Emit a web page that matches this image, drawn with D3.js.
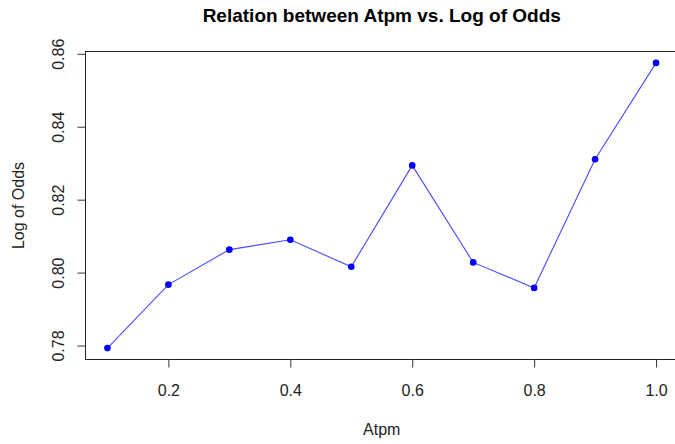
<!DOCTYPE html>
<html>
<head>
<meta charset="utf-8">
<script src="https://cdn.jsdelivr.net/npm/d3@7"></script>
<style>
  html, body { margin: 0; padding: 0; background: #fff; }
  svg { display: block; font-family: "Liberation Sans", Arial, sans-serif; }
</style>
</head>
<body>
<svg id="chart" width="675" height="444"></svg>
<script>
const atpm = [0.1, 0.2, 0.3, 0.4, 0.5, 0.6, 0.7, 0.8, 0.9, 1.0];
const logOdds = [0.7793, 0.7967, 0.8063, 0.8090, 0.8016, 0.8294, 0.8028, 0.7958, 0.8311, 0.8575];
const xTicks = [0.2, 0.4, 0.6, 0.8, 1.0];
const xTickLabels = ["0.2", "0.4", "0.6", "0.8", "1.0"];
const yTicks = [0.78, 0.80, 0.82, 0.84, 0.86];
const yTickLabels = ["0.78", "0.80", "0.82", "0.84", "0.86"];
const titleText = "Relation between Atpm vs. Log of Odds";
const xLabel = "Atpm";
const yLabel = "Log of Odds";

const svg = d3.select("#chart");
const pL = 85.5, pR = 678, pT = 51.5, pB = 359.5;

function rExtend(ext) {
  const d = (ext[1] - ext[0]) * 0.04;
  return [ext[0] - d, ext[1] + d];
}
const x = d3.scaleLinear().domain(rExtend(d3.extent(atpm))).range([pL, pR]);
const y = d3.scaleLinear().domain(rExtend(d3.extent(logOdds))).range([pB, pT]);

// box
svg.append("rect")
  .attr("x", pL).attr("y", pT)
  .attr("width", pR - pL).attr("height", pB - pT)
  .attr("fill", "none").attr("stroke", "#222").attr("stroke-width", 1);

// x axis
const xAxis = svg.append("g")
  .attr("transform", `translate(0,${pB})`)
  .call(d3.axisBottom(x).tickValues(xTicks).tickSize(8).tickFormat((d, i) => xTickLabels[i]));
xAxis.select(".domain").remove();
xAxis.selectAll(".tick line").attr("stroke", "#333");
xAxis.selectAll(".tick text")
  .attr("font-size", 16).attr("fill", "#222")
  .attr("font-family", "Liberation Sans, Arial, sans-serif")
  .attr("y", 36.5).attr("dy", null);

// y axis
const yAxis = svg.append("g")
  .attr("transform", `translate(${pL},0)`)
  .call(d3.axisLeft(y).tickValues(yTicks).tickSize(8).tickFormat((d, i) => yTickLabels[i]));
yAxis.select(".domain").remove();
yAxis.selectAll(".tick line").attr("stroke", "#333");
yAxis.selectAll(".tick text")
  .attr("font-size", 16).attr("fill", "#222")
  .attr("font-family", "Liberation Sans, Arial, sans-serif")
  .attr("x", null).attr("dy", null)
  .attr("text-anchor", "middle")
  .attr("transform", "translate(-22,0) rotate(-90)");

// line
const line = d3.line().x((d, i) => x(atpm[i])).y(d => y(d));
svg.append("path")
  .datum(logOdds)
  .attr("d", line)
  .attr("fill", "none")
  .attr("stroke", "#4a4aff")
  .attr("stroke-width", 1.1);

// points
svg.selectAll("circle.pt")
  .data(logOdds)
  .enter().append("circle")
  .attr("class", "pt")
  .attr("cx", (d, i) => x(atpm[i]))
  .attr("cy", d => y(d))
  .attr("r", 3.3)
  .attr("fill", "#0000ff");

// title
svg.append("text")
  .attr("x", (pL + pR) / 2).attr("y", 21.5)
  .attr("text-anchor", "middle")
  .attr("font-size", 19).attr("font-weight", "bold")
  .attr("fill", "#000")
  .text(titleText);

// x label
svg.append("text")
  .attr("x", (pL + pR) / 2).attr("y", 435)
  .attr("text-anchor", "middle")
  .attr("font-size", 16).attr("fill", "#222")
  .text(xLabel);

// y label
svg.append("text")
  .attr("transform", `translate(24,${(pT + pB) / 2}) rotate(-90)`)
  .attr("text-anchor", "middle")
  .attr("font-size", 16).attr("fill", "#222")
  .text(yLabel);
</script>
</body>
</html>
